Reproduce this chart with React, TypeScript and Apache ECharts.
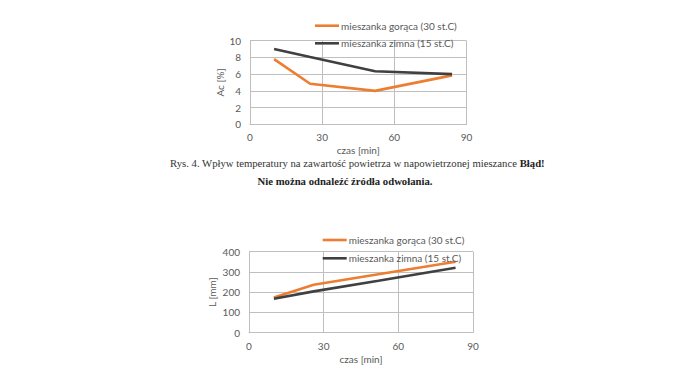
import React, { useEffect, useRef } from "react";
import * as echarts from "echarts";

const seriesNames = ["mieszanka gorąca (30 st.C)", "mieszanka zimna (15 st.C)"];
const timeTicks = [0, 30, 60, 90];

// Chart 1: Ac [%]
const acHot: [number, number][] = [[10, 7.8], [25, 4.85], [52, 4.0], [84, 5.85]];
const acCold: [number, number][] = [[10, 9.0], [25, 8.05], [52, 6.35], [84, 6.0]];

// Chart 2: L [mm]
const lHot: [number, number][] = [[10, 174], [26, 237], [52, 289], [83, 350]];
const lCold: [number, number][] = [[10, 168], [26, 204], [52, 257], [83, 321]];

const captionLine1 = "Rys. 4. Wpływ temperatury na zawartość powietrza w napowietrzonej mieszance ";
const captionBold1 = "Błąd!";
const captionLine2 = "Nie można odnaleźć źródła odwołania.";

const ORANGE = "#ED7D31";
const DARK = "#404040";
const GRID = "#bfbfbf";
const LABEL = "#595959";
const FONT = "Lato";
const FS = 10;

function xAxis(gridIndex: number) {
  return {
    type: "value",
    gridIndex,
    min: timeTicks[0],
    max: timeTicks[timeTicks.length - 1],
    interval: 30,
    name: "czas [min]",
    nameLocation: "middle",
    nameGap: 21,
    nameTextStyle: { color: LABEL, fontSize: FS, fontFamily: FONT },
    axisLine: { show: true, lineStyle: { color: GRID, width: 1 } },
    axisTick: { show: false },
    axisLabel: { color: LABEL, fontSize: FS, fontFamily: FONT, margin: 8 },
    splitLine: { show: true, lineStyle: { color: GRID, width: 1 } },
  };
}

function yAxis(gridIndex: number, name: string, max: number, interval: number, nameGap: number) {
  return {
    type: "value",
    gridIndex,
    min: 0,
    max,
    interval,
    name,
    nameLocation: "middle",
    nameGap,
    nameRotate: 90,
    nameTextStyle: { color: LABEL, fontSize: FS, fontFamily: FONT },
    axisLine: { show: true, lineStyle: { color: GRID, width: 1 } },
    axisTick: { show: false },
    axisLabel: { color: LABEL, fontSize: FS, fontFamily: FONT, margin: 9 },
    splitLine: { show: true, lineStyle: { color: GRID, width: 1 } },
  };
}

function lineSeries(name: string, data: [number, number][], color: string, idx: number) {
  return {
    type: "line",
    name,
    data,
    xAxisIndex: idx,
    yAxisIndex: idx,
    showSymbol: false,
    symbol: "none",
    color,
    lineStyle: { color, width: 2.6 },
  };
}

function legend(name: string, left: number, top: number) {
  return {
    data: [name],
    left,
    top,
    padding: 0,
    icon: "rect",
    itemWidth: 24,
    itemHeight: 2.6,
    textStyle: { color: LABEL, fontSize: FS, fontFamily: FONT, lineHeight: 10, padding: [0, 0, 0, -3] },
  };
}

export default function App() {
  const ref = useRef<HTMLDivElement>(null);
  useEffect(() => {
    if (!ref.current) return;
    const chart = echarts.init(ref.current, null, { renderer: "svg" });
    chart.setOption({
      animation: false,
      backgroundColor: "#ffffff",
      grid: [
        { left: 250, right: 695 - 466.5, top: 40.7, bottom: 391 - 124.3, containLabel: false },
        { left: 249, right: 695 - 473, top: 251.7, bottom: 391 - 332.7, containLabel: false },
      ],
      xAxis: [xAxis(0), xAxis(1)],
      yAxis: [yAxis(0, "Ac [%]", 10, 2, 25), yAxis(1, "L [mm]", 400, 100, 32)],
      legend: [
        legend(seriesNames[0], 315, 20.7),
        legend(seriesNames[1], 315, 38.3),
        legend(seriesNames[0], 322.7, 235),
        legend(seriesNames[1], 322.7, 253.3),
      ],
      series: [
        lineSeries(seriesNames[0], acHot, ORANGE, 0),
        lineSeries(seriesNames[1], acCold, DARK, 0),
        lineSeries(seriesNames[0], lHot, ORANGE, 1),
        lineSeries(seriesNames[1], lCold, DARK, 1),
      ],
      graphic: [
        {
          type: "text",
          left: 170,
          top: 157,
          style: {
            text: "{a|" + captionLine1 + "}{b|" + captionBold1 + "}",
            rich: {
              a: { fontFamily: "Liberation Serif", fontSize: 10.7, fill: "#333" },
              b: { fontFamily: "Liberation Serif", fontSize: 10.7, fontWeight: "bold", fill: "#222" },
            },
          },
        },
        {
          type: "text",
          x: 345,
          y: 180.5,
          style: {
            text: captionLine2,
            fontFamily: "Liberation Serif",
            fontSize: 10.7,
            fontWeight: "bold",
            fill: "#222",
            align: "center",
            verticalAlign: "middle",
          },
        },
      ],
    });
    return () => chart.dispose();
  }, []);
  return <div ref={ref} style={{ position: "absolute", left: 0, top: 0, width: 695, height: 391 }} />;
}
